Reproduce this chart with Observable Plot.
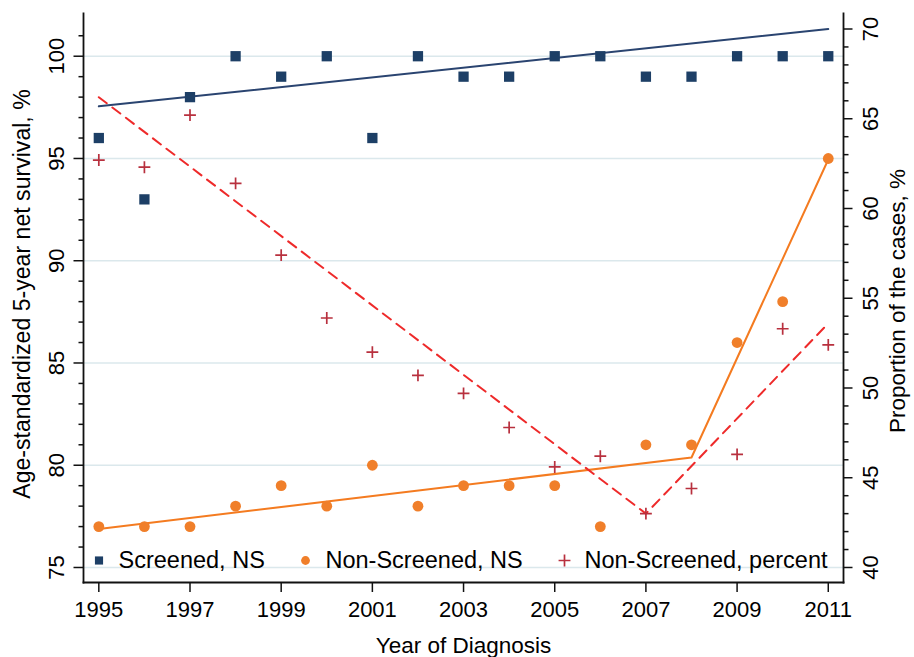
<!DOCTYPE html>
<html><head><meta charset="utf-8">
<script src="https://cdn.jsdelivr.net/npm/d3@7"></script>
<script src="https://cdn.jsdelivr.net/npm/@observablehq/plot@0.6"></script>
<style>body{margin:0;background:#fff} svg{display:block}</style>
</head><body><div id="chart"></div>
<script>
// ---- data ----
const years = [1995,1996,1997,1998,1999,2000,2001,2002,2003,2004,2005,2006,2007,2008,2009,2010,2011];
const screenedNS = [96,93,98,100,99,100,96,100,99,99,100,100,99,99,100,100,100];
const nonScreenedNS = [77,77,77,78,79,78,80,78,79,79,79,77,81,81,86,88,95];
const nonScreenedPct = [62.7,62.3,65.2,61.4,57.4,53.9,52.0,50.7,49.7,47.8,45.6,46.2,43.0,44.4,46.3,53.3,52.4];
// fitted lines
const fitScreenedYears = [1995, 2011];
const fitScreenedNS = [97.55, 101.33];
const fitNonScreenedYears = [1995, 2008, 2011];
const fitNonScreenedNS = [76.88, 80.38, 94.95];
const fitPctYears = [1995, 2007, 2011];
const fitPct = [66.2, 43.0, 53.6];
// ticks & labels
const xTicks = [1995,1997,1999,2001,2003,2005,2007,2009,2011];
const leftTicks = [75,80,85,90,95,100];
const leftMinor = [76,77,78,79,81,82,83,84,86,87,88,89,91,92,93,94,96,97,98,99,101];
const rightTicks = [40,45,50,55,60,65,70];
const rightMinor = [41,42,43,44,46,47,48,49,51,52,53,54,56,57,58,59,61,62,63,64,66,67,68,69];
const legendLabels = ["Screened, NS", "Non-Screened, NS", "Non-Screened, percent"];
const xTitle = "Year of Diagnosis";
const yLeftTitle = "Age-standardized 5-year net survival, %";
const yRightTitle = "Proportion of the cases, %";

// ---- styling ----
const navy = "#1d3f66", navyLine = "#2a4470", orange = "#f07f2a", orangeLine = "#f47b20",
      plusRed = "#b8303e", dashRed = "#ee2a2a", gridCol = "#dbe8ec";
const FONT = "'Liberation Sans', Arial, Helvetica, sans-serif";
const TICK_FS = 22;

// right axis (percent) mapped onto the left scale
const toLeft = r => 75 + (r - 40) * 0.8777;

const pts = years.map((year, i) => ({year, s: screenedNS[i], n: nonScreenedNS[i], p: toLeft(nonScreenedPct[i])}));
const fitS = fitScreenedYears.map((year, i) => ({year, v: fitScreenedNS[i]}));
const fitN = fitNonScreenedYears.map((year, i) => ({year, v: fitNonScreenedNS[i]}));
const fitP = fitPctYears.map((year, i) => ({year, v: toLeft(fitPct[i])}));

const tickStyle = {tickFormat: () => "", label: null, strokeWidth: 1.5, stroke: "#111"};

const chart = Plot.plot({
  width: 914, height: 657,
  marginLeft: 83, marginRight: 71, marginTop: 13, marginBottom: 75,
  style: {fontFamily: FONT, fontSize: "22px", background: "#fff", color: "#000"},
  x: {domain: [1994.664, 2011.334], axis: null},
  y: {domain: [74.266, 102.089], axis: null},
  marks: [
    Plot.gridY(leftTicks, {stroke: gridCol, strokeOpacity: 1, strokeWidth: 1.6}),
    // axis lines
    Plot.frame({anchor: "left", stroke: "#111", strokeWidth: 1.8}),
    Plot.frame({anchor: "bottom", stroke: "#111", strokeWidth: 1.8}),
    Plot.frame({anchor: "right", stroke: "#111", strokeWidth: 1.8}),
    // ticks
    Plot.axisX(xTicks, {tickSize: 10, ...tickStyle}),
    Plot.axisY(leftTicks, {anchor: "left", tickSize: 9.5, ...tickStyle}),
    Plot.axisY(leftMinor, {anchor: "left", tickSize: 4.5, ...tickStyle}),
    Plot.axisY(rightTicks.map(toLeft), {anchor: "right", tickSize: 8.5, ...tickStyle}),
    Plot.axisY(rightMinor.map(toLeft), {anchor: "right", tickSize: 4.5, ...tickStyle}),
    // tick labels
    Plot.text(xTicks, {x: d => d, text: d => String(d), frameAnchor: "bottom", dy: 19, lineAnchor: "top", textAnchor: "middle", fontSize: TICK_FS}),
    Plot.text(leftTicks, {y: d => d, text: d => String(d), frameAnchor: "left", dx: -20, rotate: -90, lineAnchor: "bottom", textAnchor: "middle", fontSize: TICK_FS}),
    Plot.text(rightTicks, {y: d => toLeft(d), text: d => String(d), frameAnchor: "right", dx: 18.5, rotate: -90, lineAnchor: "top", textAnchor: "middle", fontSize: TICK_FS}),
    // fitted lines
    Plot.line(fitS, {x: "year", y: "v", stroke: navyLine, strokeWidth: 2}),
    Plot.line(fitN, {x: "year", y: "v", stroke: orangeLine, strokeWidth: 2}),
    Plot.line(fitP, {x: "year", y: "v", stroke: dashRed, strokeWidth: 2, strokeDasharray: "10,7"}),
    // points
    Plot.dot(pts, {x: "year", y: "s", symbol: "square", r: 5.8, fill: navy, stroke: "none"}),
    Plot.dot(pts, {x: "year", y: "n", symbol: "circle", r: 5.4, fill: orange, stroke: "none"}),
    Plot.dot(pts, {x: "year", y: "p", symbol: "plus", r: 3.9, stroke: plusRed, strokeWidth: 1.7, fill: "none"}),
    // legend
    Plot.dot([legendLabels[0]], {frameAnchor: "bottom-left", dx: 15.5, dy: -22, symbol: "square", r: 4.6, fill: navy, stroke: "none"}),
    Plot.text([legendLabels[0]], {text: d => d, frameAnchor: "bottom-left", dx: 35, dy: -22, textAnchor: "start", lineAnchor: "middle", fontSize: 23.5}),
    Plot.dot([legendLabels[1]], {frameAnchor: "bottom-left", dx: 222, dy: -22, symbol: "circle", r: 4.4, fill: orange, stroke: "none"}),
    Plot.text([legendLabels[1]], {text: d => d, frameAnchor: "bottom-left", dx: 242, dy: -22, textAnchor: "start", lineAnchor: "middle", fontSize: 23.5}),
    Plot.dot([legendLabels[2]], {frameAnchor: "bottom-left", dx: 481, dy: -22, symbol: "plus", r: 3.9, stroke: plusRed, strokeWidth: 1.7, fill: "none"}),
    Plot.text([legendLabels[2]], {text: d => d, frameAnchor: "bottom-left", dx: 501, dy: -22, textAnchor: "start", lineAnchor: "middle", fontSize: 23.5}),
    // axis titles
    Plot.text([xTitle], {text: d => d, frameAnchor: "bottom", dy: 70.5, lineAnchor: "bottom", textAnchor: "middle", fontSize: 22.5}),
    Plot.text([yLeftTitle], {text: d => d, frameAnchor: "left", rotate: -90, dx: -54, dy: -4, lineAnchor: "bottom", textAnchor: "middle", fontSize: 23.1}),
    Plot.text([yRightTitle], {text: d => d, frameAnchor: "right", rotate: -90, dx: 61, dy: 3, lineAnchor: "bottom", textAnchor: "middle", fontSize: 22.5})
  ]
});
document.getElementById("chart").appendChild(chart);
</script>
</body></html>
